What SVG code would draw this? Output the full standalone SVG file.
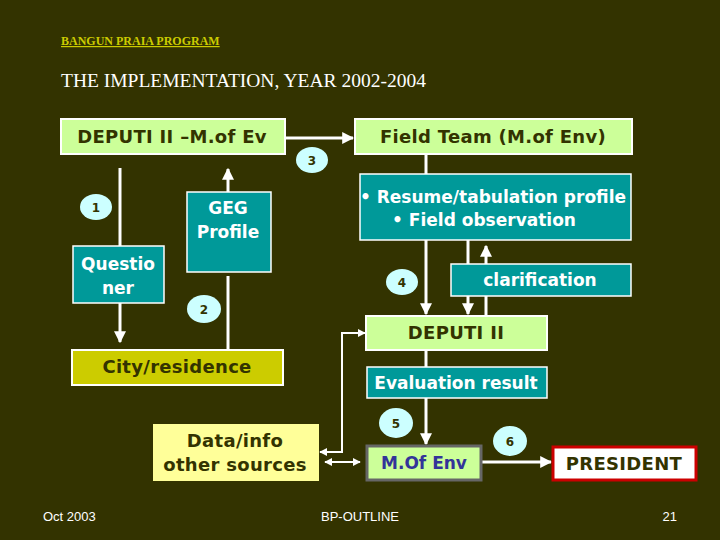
<svg xmlns="http://www.w3.org/2000/svg" width="720" height="540" viewBox="0 0 720 540">
<style>
.lg{fill:#ccff99;stroke:#ffffff;stroke-width:2}
.tl{fill:#009999;stroke:#ffffff;stroke-width:1.5}
.t{font-family:"DejaVu Sans",sans-serif;font-size:17px;text-anchor:middle}
.dk{fill:#333300;font-weight:bold;font-size:18px;letter-spacing:0.3px}
.wt{fill:#ffffff;font-weight:bold}
.num{fill:#ccffff}
.nt{font-family:"DejaVu Sans",sans-serif;font-weight:bold;font-size:12px;fill:#333300;text-anchor:middle}
.c{stroke:#ffffff;stroke-width:3;fill:none}
.c2{stroke:#ffffff;stroke-width:2;fill:none}
.ft{font-family:"Liberation Sans",sans-serif;font-size:13px;fill:#ffffff}
</style>
<defs>
<marker id="ah" viewBox="0 0 10 10" refX="9" refY="5" markerWidth="4" markerHeight="4" orient="auto">
<path d="M0,0 L10,5 L0,10 z" fill="#ffffff"/>
</marker>
<marker id="ahs" viewBox="0 0 10 10" refX="9" refY="5" markerWidth="4" markerHeight="4" orient="auto-start-reverse">
<path d="M0,0 L10,5 L0,10 z" fill="#ffffff"/>
</marker>
</defs>
<rect width="720" height="540" fill="#333300"/>
<text x="61" y="45" font-family="Liberation Serif,serif" font-size="12" font-weight="bold" fill="#cccc00" text-decoration="underline">BANGUN PRAIA PROGRAM</text>
<text x="61" y="87" font-family="Liberation Serif,serif" font-size="19.5" fill="#ffffff">THE IMPLEMENTATION, YEAR 2002-2004</text>

<g id="connectors">
<line class="c" x1="285" y1="138" x2="353" y2="138" marker-end="url(#ah)"/>
<line class="c" x1="120" y1="168" x2="120" y2="246"/>
<line class="c" x1="120" y1="303" x2="120" y2="342" marker-end="url(#ah)"/>
<line class="c" x1="228" y1="192" x2="228" y2="169" marker-end="url(#ah)"/>
<line class="c" x1="228" y1="276" x2="228" y2="350"/>
<line class="c" x1="426" y1="154" x2="426" y2="174"/>
<line class="c" x1="426" y1="240" x2="426" y2="314" marker-end="url(#ah)"/>
<line class="c" x1="468" y1="240" x2="468" y2="314" marker-end="url(#ah)"/>
<line class="c" x1="486" y1="316" x2="486" y2="246" marker-end="url(#ah)"/>
<line class="c" x1="426" y1="350" x2="426" y2="367"/>
<line class="c" x1="426" y1="398" x2="426" y2="444" marker-end="url(#ah)"/>
<line class="c" x1="482" y1="462" x2="551" y2="462" marker-end="url(#ah)"/>
<polyline class="c2" points="320,452 342,452 342,333 365,333" marker-start="url(#ahs)" marker-end="url(#ah)"/>
<line class="c2" x1="325" y1="462" x2="360" y2="462" marker-start="url(#ahs)" marker-end="url(#ah)"/>
</g>

<g id="deputi-mofev"><rect class="lg" x="61" y="119" width="224" height="35"/><text class="t dk" x="172" y="143">DEPUTI II –M.of Ev</text></g>
<g id="field-team"><rect class="lg" x="355" y="119" width="277" height="35"/><text class="t dk" x="493" y="143">Field Team (M.of Env)</text></g>
<g id="questioner"><rect class="tl" x="73" y="246" width="91" height="57"/><text class="t wt" x="118" y="270">Questio</text><text class="t wt" x="118" y="294">ner</text></g>
<g id="geg"><rect class="tl" x="187" y="192" width="84" height="80"/><text class="t wt" x="228" y="214">GEG</text><text class="t wt" x="228" y="238">Profile</text></g>
<g id="resume"><rect class="tl" x="360" y="174" width="271" height="66"/><text class="t wt" x="493" y="203">• Resume/tabulation profile</text><text class="t wt" x="484" y="226">• Field observation</text></g>
<g id="clarification"><rect class="tl" x="451" y="264" width="180" height="32"/><text class="t wt" x="540" y="286">clarification</text></g>
<g id="city"><rect x="72" y="350" width="211" height="35" fill="#cccc00" stroke="#ffffff" stroke-width="2"/><text class="t dk" x="177" y="373">City/residence</text></g>
<g id="deputi2"><rect class="lg" x="366" y="316" width="181" height="34"/><text class="t dk" x="456" y="339">DEPUTI II</text></g>
<g id="evaluation"><rect class="tl" x="367" y="367" width="180" height="31"/><text class="t wt" x="456" y="389">Evaluation result</text></g>
<g id="datainfo"><rect x="153" y="424" width="166" height="57" fill="#ffff99"/><text class="t dk" x="235" y="447">Data/info</text><text class="t dk" x="235" y="471">other sources</text></g>
<g id="mofenv"><rect x="367" y="446" width="114" height="34" fill="#ccff99" stroke="#666666" stroke-width="3"/><text class="t" x="424" y="469" fill="#333399" font-weight="bold" font-size="18">M.Of Env</text></g>
<g id="president"><rect x="553" y="447" width="143" height="33" fill="#ffffff" stroke="#cc0000" stroke-width="3"/><text class="t dk" x="624" y="470">PRESIDENT</text></g>

<g id="n1"><ellipse class="num" cx="96" cy="207" rx="16" ry="13"/><text class="nt" x="96" y="212">1</text></g>
<g id="n2"><ellipse class="num" cx="204" cy="309" rx="17" ry="14"/><text class="nt" x="204" y="314">2</text></g>
<g id="n3"><ellipse class="num" cx="312" cy="160" rx="16" ry="13"/><text class="nt" x="312" y="165">3</text></g>
<g id="n4"><ellipse class="num" cx="402" cy="282" rx="16" ry="13"/><text class="nt" x="402" y="287">4</text></g>
<g id="n5"><ellipse class="num" cx="396" cy="423" rx="17" ry="15"/><text class="nt" x="396" y="428">5</text></g>
<g id="n6"><ellipse class="num" cx="510" cy="441" rx="17" ry="15"/><text class="nt" x="510" y="446">6</text></g>

<text class="ft" x="43" y="521">Oct 2003</text>
<text class="ft" x="360" y="521" text-anchor="middle">BP-OUTLINE</text>
<text class="ft" x="677" y="521" text-anchor="end">21</text>
</svg>
